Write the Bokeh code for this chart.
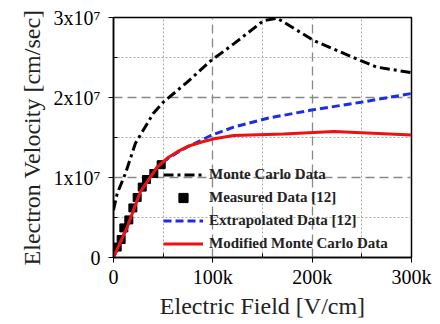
from bokeh.plotting import figure
from bokeh.models import FixedTicker, Legend, LegendItem, Range1d
from bokeh.embed import file_html
from bokeh.resources import INLINE

# Monte Carlo data
mc_x = [0, 3.7e3, 12e3, 22e3, 40e3, 50e3, 74e3, 98e3, 121e3, 151e3, 165e3, 202e3, 249e3, 265e3, 300e3]
mc_y = [5.9e6, 8.0e6, 10.5e6, 14.25e6, 18.0e6, 19.4e6, 21.9e6, 24.6e6, 26.7e6, 29.6e6, 29.9e6, 27.1e6, 24.6e6, 23.8e6, 23.1e6]

# Measured data [12]
meas_x = [3.7e3, 7.7e3, 10.4e3, 15.4e3, 19.5e3, 23.8e3, 28.9e3, 33.2e3, 40.6e3, 48e3]
meas_y = [1.3e6, 2.25e6, 3.7e6, 4.7e6, 6.2e6, 7.5e6, 8.8e6, 9.75e6, 10.5e6, 11.6e6]

# Extrapolated data [12]
ext_x = [0, 13.8e3, 27e3, 44e3, 55e3, 64e3, 74e3, 98e3, 121e3, 155e3, 198e3, 249e3, 300e3]
ext_y = [0, 3.8e6, 8.2e6, 11.3e6, 12.4e6, 13.1e6, 13.8e6, 15.25e6, 16.3e6, 17.4e6, 18.4e6, 19.4e6, 20.5e6]

# Modified Monte Carlo data
mod_x = [0, 13.8e3, 27e3, 44e3, 55e3, 64e3, 75e3, 88e3, 100e3, 121e3, 171e3, 222e3, 300e3]
mod_y = [0, 3.8e6, 8.2e6, 11.3e6, 12.5e6, 13.2e6, 13.9e6, 14.4e6, 14.8e6, 15.25e6, 15.45e6, 15.75e6, 15.3e6]

x_ticks = [0, 100e3, 200e3, 300e3]
x_labels = ["0", "100k", "200k", "300k"]
x_minor = [50e3, 150e3, 250e3]
y_ticks = [0, 1e7, 2e7, 3e7]
y_labels = ["0", "1x10\u2077", "2x10\u2077", "3x10\u2077"]
y_minor = [0.5e7, 1.5e7, 2.5e7]

FONT = "Liberation Serif"

p = figure(width=440, height=324, output_backend="svg", toolbar_location=None,
           x_range=Range1d(0, 300e3), y_range=Range1d(0, 3e7),
           min_border_left=113, min_border_right=29, min_border_top=17, min_border_bottom=67)
p.outline_line_color = "black"
p.outline_line_width = 1.5

for ax, ticks, minor, labels in ((p.xaxis[0], x_ticks, x_minor, x_labels), (p.yaxis[0], y_ticks, y_minor, y_labels)):
    ax.ticker = FixedTicker(ticks=ticks, minor_ticks=minor)
    ax.major_label_overrides = {t: l for t, l in zip(ticks, labels)}
    ax.major_label_text_font = FONT
    ax.major_label_text_font_size = "20px"
    ax.major_label_text_color = "black"
    ax.axis_label_text_font = FONT
    ax.axis_label_text_font_size = "24px"
    ax.axis_label_text_font_style = "normal"
    ax.axis_label_text_color = "#222222"
    ax.axis_line_color = "black"
    ax.axis_line_width = 1.5
    ax.major_tick_in = 0
    ax.major_tick_out = 5
    ax.minor_tick_in = 4
    ax.minor_tick_out = 0

p.xaxis.axis_label = "Electric Field [V/cm]"
p.yaxis.axis_label = "Electron Velocity [cm/sec]"
p.xaxis.major_label_standoff = 3
p.xaxis.axis_label_standoff = 2
p.yaxis.major_label_standoff = 8
p.yaxis.axis_label_standoff = 6

for g in (p.xgrid[0], p.ygrid[0]):
    g.grid_line_color = "#888888"
    g.grid_line_dash = "9 5"
    g.grid_line_width = 1.3
    g.minor_grid_line_color = "#aaaaaa"
    g.minor_grid_line_dash = "2 2"
p.xgrid.ticker = FixedTicker(ticks=x_ticks, minor_ticks=x_minor)
p.ygrid.ticker = FixedTicker(ticks=y_ticks, minor_ticks=y_minor)

r_mc = p.line(mc_x, mc_y, line_color="black", line_width=3, line_dash="10 4 3 4")
r_meas = p.scatter(meas_x, meas_y, marker="square", size=8, fill_color="black", line_color="black")
r_ext = p.line(ext_x, ext_y, line_color="#1a2ee6", line_width=3, line_dash="8 4")
r_mod = p.line(mod_x, mod_y, line_color="#ee1111", line_width=3)

legend = Legend(items=[
    LegendItem(label="Monte Carlo Data", renderers=[r_mc]),
    LegendItem(label="Measured Data [12]", renderers=[r_meas]),
    LegendItem(label="Extrapolated Data [12]", renderers=[r_ext]),
    LegendItem(label="Modified Monte Carlo Data", renderers=[r_mod]),
], location=(50, 2))
legend.label_text_font = FONT
legend.label_text_font_style = "bold"
legend.label_text_color = "#222222"
legend.background_fill_alpha = 0
legend.border_line_alpha = 0
legend.label_text_font_size = "15px"
legend.glyph_width = 40
legend.glyph_height = 23
legend.label_height = 23
legend.spacing = 0
legend.padding = 0
legend.margin = 0
legend.label_standoff = 6
p.add_layout(legend, "center")

open("out.html", "w").write(file_html(p, INLINE))
